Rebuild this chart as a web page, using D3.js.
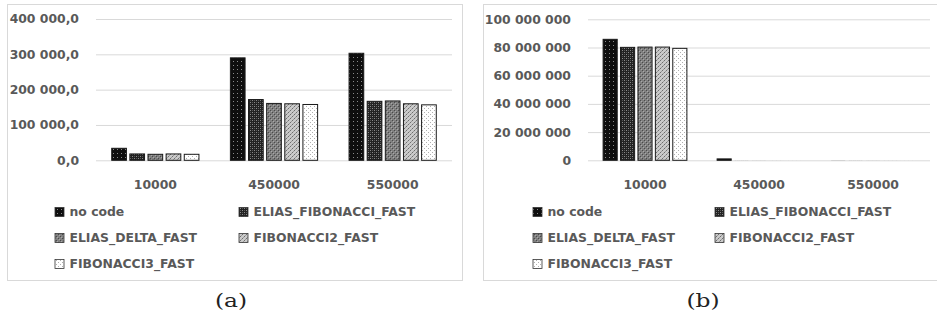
<!DOCTYPE html>
<html>
<head>
<meta charset="utf-8">
<script src="https://cdn.jsdelivr.net/npm/d3@7/dist/d3.min.js"></script>
<style>
  html, body { margin: 0; padding: 0; background: #fff; }
  svg { display: block; }
  .lbl { font-family: "DejaVu Sans", sans-serif; font-weight: bold; font-size: 12.4px; fill: #595959; }
  .cap { font-family: "DejaVu Serif", serif; font-size: 18px; fill: #222; }
</style>
</head>
<body>
<svg id="chart" width="937" height="325"></svg>
<script>
// Categories (input sizes) and series names
const categories = ["10000", "450000", "550000"];
const seriesNames = ["no code", "ELIAS_FIBONACCI_FAST", "ELIAS_DELTA_FAST", "FIBONACCI2_FAST", "FIBONACCI3_FAST"];

// Panel (a) values, one array per series, in category order
const noCodeA     = [34000, 290000, 303000];
const eliasFibA   = [18000, 172000, 167000];
const eliasDeltaA = [17000, 161000, 168000];
const fib2A       = [18000, 160000, 160000];
const fib3A       = [17000, 158000, 157000];

// Panel (b) values
const noCodeB     = [85800000, 1000000, 60000];
const eliasFibB   = [80100000, 40000, 40000];
const eliasDeltaB = [80300000, 40000, 40000];
const fib2B       = [80300000, 40000, 40000];
const fib3B       = [79400000, 40000, 40000];

// Tick values
const ticksA = [0, 100000, 200000, 300000, 400000];
const ticksB = [0, 20000000, 40000000, 60000000, 80000000, 100000000];

const locale = d3.formatLocale({ decimal: ",", thousands: " ", grouping: [3], currency: ["", ""] });

const svg = d3.select("#chart");
const defs = svg.append("defs");

// Fill patterns, one per series
const patternSpecs = [
  { id: "p0", bg: "#0e0e0e", dots: [[1, 1, "#8a8a8a"]] },
  { id: "p1", bg: "#222222", dots: [[0, 0, "#8a8a8a"], [2, 2, "#8a8a8a"], [2, 0, "#555555"], [0, 2, "#555555"]] },
  { id: "p2", bg: "#808080", dots: [[0, 0, "#4a4a4a"], [2, 2, "#4a4a4a"], [1, 1, "#a8a8a8"], [3, 3, "#a8a8a8"]] },
  { id: "p3", bg: "#cacaca", dots: [[0, 0, "#6e6e6e"], [2, 2, "#6e6e6e"], [1, 3, "#9a9a9a"], [3, 1, "#9a9a9a"]] },
  { id: "p4", bg: "#ffffff", dots: [[0, 0, "#b0b0b0"], [2, 2, "#b0b0b0"]] }
];
patternSpecs.forEach(s => {
  const p = defs.append("pattern").attr("id", s.id)
    .attr("patternUnits", "userSpaceOnUse").attr("width", 4).attr("height", 4);
  p.append("rect").attr("width", 4).attr("height", 4).attr("fill", s.bg);
  s.dots.forEach(([x, y, c]) => p.append("rect").attr("x", x).attr("y", y)
    .attr("width", 1).attr("height", 1).attr("fill", c));
});

const panels = [
  {
    series: [noCodeA, eliasFibA, eliasDeltaA, fib2A, fib3A],
    ticks: ticksA, max: 400000, fmt: locale.format(",.1f"),
    box: [7.5, 4.5, 455, 276], plot: [96, 452], top: 19, base: 160.3,
    legendX: [55, 239], caption: "(a)", capX: 231
  },
  {
    series: [noCodeB, eliasFibB, eliasDeltaB, fib2B, fib3B],
    ticks: ticksB, max: 100000000, fmt: locale.format(",.0f"),
    box: [483.5, 4.5, 470, 276], plot: [588, 930], top: 19.3, base: 160.3,
    legendX: [533, 715], caption: "(b)", capX: 703
  }
];

panels.forEach(P => {
  const g = svg.append("g");

  g.append("rect")
    .attr("x", P.box[0]).attr("y", P.box[1]).attr("width", P.box[2]).attr("height", P.box[3])
    .attr("fill", "#fff").attr("stroke", "#d9d9d9").attr("stroke-width", 1);

  const x = d3.scaleBand().domain(categories).range(P.plot).paddingInner(0.265).paddingOuter(0.1325);
  const xs = d3.scaleBand().domain(d3.range(seriesNames.length)).range([0, x.bandwidth()]).paddingInner(0.19);
  const y = d3.scaleLinear().domain([0, P.max]).range([P.base, P.top]);

  // Gridlines and value labels
  const yAxis = g.append("g").attr("transform", `translate(${P.plot[0]},0)`)
    .call(d3.axisLeft(y).tickValues(P.ticks).tickFormat(P.fmt)
      .tickSize(-(P.plot[1] - P.plot[0])).tickPadding(17));
  yAxis.select(".domain").remove();
  yAxis.selectAll(".tick line").attr("stroke", "#d9d9d9");
  yAxis.selectAll(".tick text").attr("class", "lbl").attr("fill", null);

  // Category labels
  const xAxis = g.append("g").attr("transform", `translate(0,${P.base})`)
    .call(d3.axisBottom(x).tickSize(0).tickPadding(19.5));
  xAxis.select(".domain").remove();
  xAxis.selectAll(".tick text").attr("class", "lbl").attr("fill", null);

  // Bars (outline only where the bar is at least a pixel tall)
  P.series.forEach((vals, si) => {
    g.append("g").selectAll("rect").data(vals).join("rect")
      .attr("x", (d, i) => x(categories[i]) + xs(si))
      .attr("width", xs.bandwidth())
      .attr("y", d => y(d))
      .attr("height", d => y(0) - y(d))
      .attr("fill", `url(#p${si})`)
      .attr("stroke", d => (y(0) - y(d)) >= 1 ? "#1a1a1a" : "none")
      .attr("stroke-width", 1);
  });

  // Legend: two columns, three rows
  const rowY = [212, 238, 264];
  seriesNames.forEach((name, i) => {
    const cx = P.legendX[i % 2], cy = rowY[Math.floor(i / 2)];
    g.append("rect").attr("x", cx).attr("y", cy - 4.5).attr("width", 9).attr("height", 9)
      .attr("fill", `url(#p${i})`).attr("stroke", "#333").attr("stroke-width", 0.8);
    g.append("text").attr("class", "lbl").attr("x", cx + 14.5).attr("y", cy).attr("dy", "0.36em").text(name);
  });

  // Panel caption
  g.append("text").attr("class", "cap")
    .attr("transform", `translate(${P.capX},307) scale(1.3,1)`)
    .attr("text-anchor", "middle").text(P.caption);
});
</script>
</body>
</html>
